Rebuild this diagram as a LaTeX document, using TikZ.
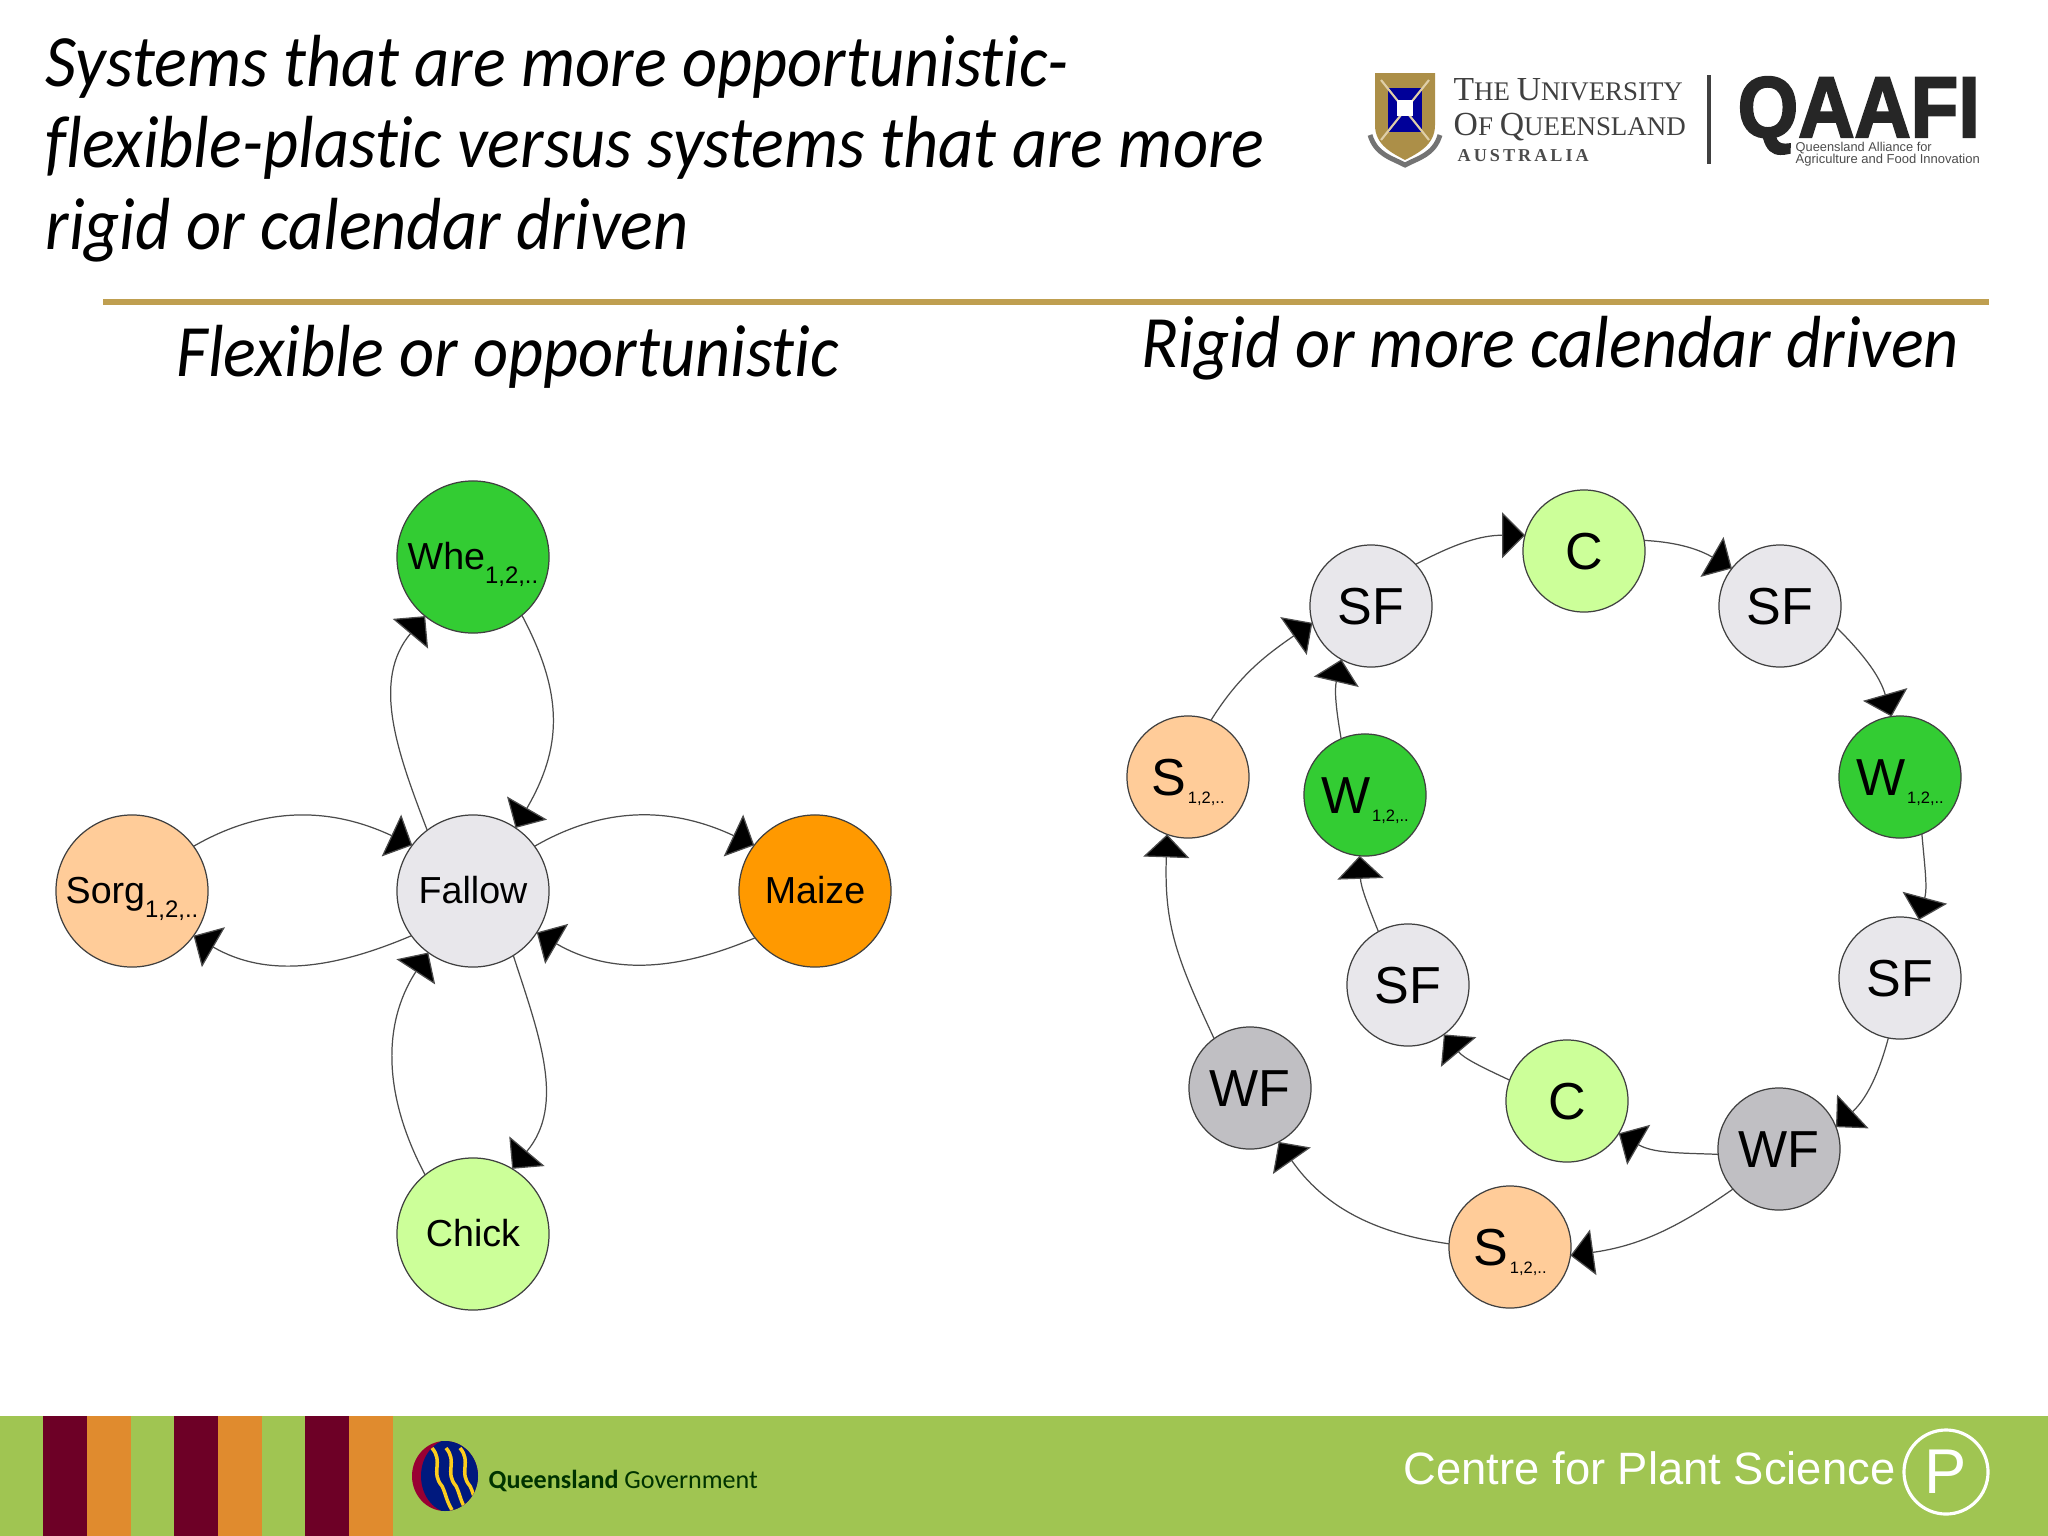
\documentclass[tikz,border=0pt]{standalone}
\usepackage{fontspec}
\usepackage{graphicx}
\setmainfont{Liberation Sans}
\newfontfamily\ttlfont[Ligatures=NoCommon]{Carlito}
\newfontfamily\uqfont{Liberation Serif}
\newfontfamily\qaafont[FakeBold=2.5]{Liberation Sans}
\usetikzlibrary{arrows.meta}
\definecolor{gfallow}{HTML}{E8E7EB}
\definecolor{gwheat}{HTML}{33CC33}
\definecolor{gsorg}{HTML}{FFCC99}
\definecolor{gmaize}{HTML}{FF9900}
\definecolor{gchick}{HTML}{CCFF99}
\definecolor{gwf}{HTML}{C0BFC3}
\definecolor{bargreen}{HTML}{A0C552}
\definecolor{barred}{HTML}{6D0026}
\definecolor{barorange}{HTML}{E08B2E}
\definecolor{rulegold}{HTML}{BF9F50}
\newcommand{\fs}[1]{\fontsize{#1pt}{#1pt}\selectfont}
\newcommand{\lsub}[1]{\smash{\raisebox{-0.36em}{\fs{6.8}#1}}}
\newcommand{\rsub}[1]{\kern0.5pt\smash{\raisebox{-0.14em}{\fs{4.7}#1}}}
\newcommand{\fitw}[2]{\resizebox{#1}{!}{#2}}
\newcommand{\ttlx}[1]{\scalebox{0.926}[1]{#1}}
\tikzset{
 x=0.01cm,y=0.01cm,
 big/.style={circle,draw=black!75,line width=0.35pt,minimum size=1.52cm,inner sep=0pt,outer sep=0pt,font=\fs{10.7},text height=7.2pt,text depth=0pt},
 small/.style={circle,draw=black!75,line width=0.35pt,minimum size=1.22cm,inner sep=0pt,outer sep=0pt,font=\fs{14.8},text height=10.7pt,text depth=0pt},
 edge/.style={draw=black!70,line width=0.35pt,-{Triangle[length=0.23cm,width=0.46cm,fill=black]}},
 ttl/.style={anchor=base west,inner sep=0pt,font=\ttlfont\itshape\fs{21}},
 txt/.style={anchor=base west,inner sep=0pt},
}
\begin{document}
\begin{tikzpicture}
\useasboundingbox (0,0) rectangle (2048,-1536);
% title
\node[ttl] (t1) at (45,-86) {\ttlx{Systems that are more opportunistic-}};
\node[ttl] (t2) at (45,-167) {\ttlx{flexible-plastic versus systems that are more}};
\node[ttl] (t3) at (45,-249) {\ttlx{rigid or calendar driven}};
\fill[rulegold] (103,-299) rectangle (1989,-305);
\node[ttl] (h1) at (176,-376) {\ttlx{Flexible or opportunistic}};
\node[ttl] (h2) at (1141,-367) {\ttlx{Rigid or more calendar driven}};
% UQ logo
\fill[rulegold!90!black] (1375,-73) -- (1435,-73) -- (1435,-125) .. controls (1435,-145) and (1418,-153) .. (1405,-160) .. controls (1392,-153) and (1375,-145) .. (1375,-125) -- cycle;
\fill[blue!60!black] (1388,-88) rectangle (1422,-132);
\draw[rulegold!50,line width=0.6pt] (1381,-80) -- (1429,-140) (1429,-80) -- (1381,-140);
\fill[white] (1397,-100) rectangle (1413,-116);
\draw[black!55,line width=1.4pt] (1370,-135) .. controls (1376,-155) and (1392,-158) .. (1405,-165) .. controls (1418,-158) and (1434,-155) .. (1440,-135);
\node[txt,font=\uqfont] (uq1) at (1453,-100) {\fitw{2.29cm}{\textcolor{black!75}{T\fs{8}HE \fs{10}U\fs{8}NIVERSITY}}};
\node[txt,font=\uqfont] (uq2) at (1453,-135) {\fitw{2.32cm}{\textcolor{black!75}{O\fs{8}F \fs{10}Q\fs{8}UEENSLAND}}};
\node[txt,font=\uqfont\bfseries] (uq3) at (1457,-161) {\fitw{1.31cm}{\textcolor{black!70}{A\,U\,S\,T\,R\,A\,L\,I\,A}}};
\fill[black!75] (1707,-75) rectangle (1711,-164);
\node[txt] (qa) at (1737,-137) {\resizebox*{2.42cm}{0.77cm}{\qaafont\bfseries\textcolor{black!85}{QAAFI}}};
\node[txt] (qb) at (1795,-151) {\fitw{1.36cm}{\textcolor{black!70}{Queensland Alliance for}}};
\node[txt] (qc) at (1795,-163) {\fitw{1.84cm}{\textcolor{black!70}{Agriculture and Food Innovation}}};
% footer
\fill[bargreen] (0,-1416) rectangle (2048,-1536);
\foreach \xa/\xb/\c in {43/87/barred,87/131/barorange,174/218/barred,218/262/barorange,305/349/barred,349/393/barorange}
  \fill[\c] (\xa,-1416) rectangle (\xb,-1536);
\begin{scope}
\clip (445,-1476) ellipse (33 and 35);
\fill[red!75!blue!80!black] (411,-1441) rectangle (481,-1511);
\fill[blue!55!black!90!green] (452,-1476) ellipse (31 and 37);
\foreach \d in {0,14,28}
  \draw[yellow!60!orange!90!white,line width=1pt] (432+\d,-1448) .. controls (444+\d,-1462) and (430+\d,-1472) .. (442+\d,-1486) .. controls (446+\d,-1494) and (446+\d,-1500) .. (452+\d,-1510);
\end{scope}
\node[txt] (qg) at (488,-1488) {\resizebox{2.69cm}{!}{\ttlfont\textcolor{black!80!green}{\bfseries Queensland \mdseries Government}}};
\node[txt,font=\fs{12.9},text=white] (cps) at (1403,-1484) {Centre for Plant Science};
\node[circle,draw=white,line width=0.9pt,minimum size=0.84cm,inner sep=0pt,font=\fs{18},text=white] (pc) at (1946,-1472) {P};
% left graph
\node[big,fill=gfallow] (F) at (473,-891) {Fallow};
\node[big,fill=gwheat] (Wh) at (473,-557) {Whe\lsub{1,2,..}};
\node[big,fill=gsorg] (So) at (132,-891) {Sorg\lsub{1,2,..}};
\node[big,fill=gmaize] (Ma) at (815,-891) {Maize};
\node[big,fill=gchick] (Ch) at (473,-1234) {Chick};
\draw[edge] (F.127) to[out=111,in=230] (Wh.231);
\draw[edge] (Wh.-50) to[out=-62,in=60,looseness=1.1] (F.56);
\draw[edge] (F.216) to[out=203,in=330] (So.-36);
\draw[edge] (So.36) to[out=30,in=155] (F.143);
\draw[edge] (F.36) to[out=30,in=155] (Ma.143);
\draw[edge] (Ma.218) to[out=203,in=330] (F.-33);
\draw[edge] (Ch.129) to[out=118,in=237] (F.234);
\draw[edge] (F.-58) to[out=-72,in=50] (Ch.59);
% right graph
\node[small,fill=gchick] (C1) at (1584,-551) {C};
\node[small,fill=gfallow] (SF1) at (1780,-606) {SF};
\node[small,fill=gwheat] (W1) at (1900,-777) {W\rsub{1,2,..}};
\node[small,fill=gfallow] (SF2) at (1900,-978) {SF};
\node[small,fill=gwf] (WF1) at (1779,-1149) {WF};
\node[small,fill=gsorg] (S1) at (1510,-1247) {S\rsub{1,2,..}};
\node[small,fill=gwf] (WF2) at (1250,-1088) {WF};
\node[small,fill=gsorg] (S2) at (1188,-777) {S\rsub{1,2,..}};
\node[small,fill=gfallow] (SF3) at (1371,-606) {SF};
\node[small,fill=gwheat] (W2) at (1365,-795) {W\rsub{1,2,..}};
\node[small,fill=gfallow] (SF4) at (1408,-985) {SF};
\node[small,fill=gchick] (C2) at (1567,-1101) {C};
\draw[edge] (C1.10) to[out=-3,in=150] (SF1.142);
\draw[edge] (SF1.-21) to[out=-45,in=106] (W1.98);
\draw[edge] (W1.-69) to[out=-85,in=75] (SF2.72);
\draw[edge] (SF2.-101) to[out=-105,in=43] (WF1.21);
\draw[edge] (WF1.221) to[out=215,in=8] (S1.-8);
\draw[edge] (S1.177) to[out=172,in=305] (WF2.-62);
\draw[edge] (WF2.126) to[out=115,in=268,looseness=1.1] (S2.250);
\draw[edge] (S2.68) to[out=58,in=215] (SF3.196);
\draw[edge] (SF3.43) to[out=28,in=180] (C1.165);
\draw[edge] (W2.113) to[out=100,in=257] (SF3.241);
\draw[edge] (SF4.119) to[out=112,in=272] (W2.265);
\draw[edge] (C2.160) to[out=155,in=310] (SF4.-54);
\draw[edge] (WF1.185) to[out=178,in=330] (C2.-32);
\end{tikzpicture}
\end{document}
